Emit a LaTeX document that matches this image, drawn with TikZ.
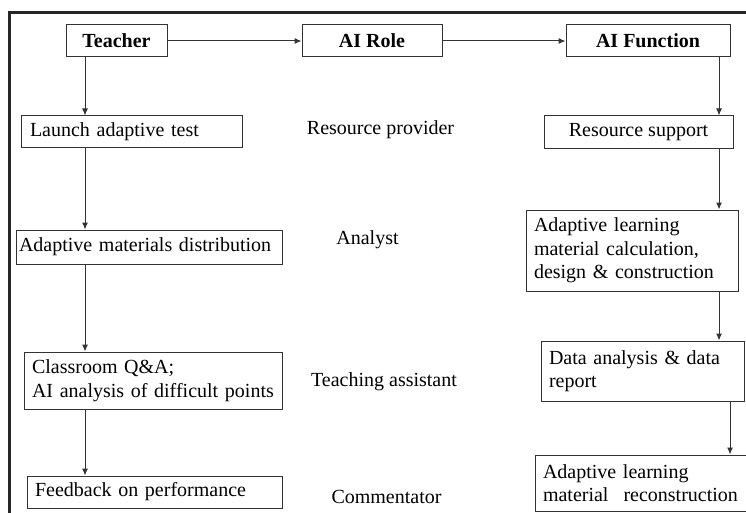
\documentclass[tikz,border=0pt]{standalone}
\usepackage{fontspec}
\setmainfont{Liberation Serif}
\usetikzlibrary{arrows.meta}
\begin{document}
\begin{tikzpicture}[x=1pt, y=-1pt,
  main/.style = {draw=black!80, line width=1pt, rectangle, inner ysep=0pt, font=\fontsize{20}{23.5}\selectfont},
  head/.style = {main, font=\fontsize{20}{23.5}\selectfont\bfseries, minimum height=32pt},
  role/.style = {font=\fontsize{20}{23.5}\selectfont},
  arr/.style = {-{Latex[length=7pt, width=6pt]}, draw=black!80, line width=1pt}]
\useasboundingbox (0,0) rectangle (746,513);
\clip (0,0) rectangle (746,513);
\draw[line width=3pt, black!85] (9,13) rectangle (770,540);

\node[head, minimum width=101pt] (1) at (116.5,41) {Teacher};
\node[head, minimum width=140pt] (2) at (372,41) {AI Role};
\node[head, minimum width=164pt] (3) at (648,41) {AI Function};

\node[main, minimum height=32pt, inner xsep=9pt, text width=203pt, align=left] (4) at (131.5,132) {Launch adaptive test};
\node[main, minimum height=34pt, inner xsep=3pt, text width=260pt, align=left] (5) at (149,247) {Adaptive materials distribution};
\node[main, minimum height=57pt, inner xsep=8pt, text width=242pt, align=left] (6) at (153,380.5) {Classroom Q\&A;\\AI analysis of difficult points};
\node[main, minimum height=32pt, inner xsep=8pt, text width=239pt, align=left] (7) at (154.5,492) {Feedback on performance};

\node[role] (8) at (380.5,130) {Resource provider};
\node[role] (9) at (367.5,240) {Analyst};
\node[role] (10) at (384,382) {Teaching assistant};
\node[role] (11) at (386.5,497) {Commentator};

\node[main, minimum height=33pt, minimum width=189pt] (12) at (638.5,132.5) {Resource support};
\node[main, minimum height=81pt, inner xsep=8pt, text width=196pt, align=left] (13) at (632,250.5) {Adaptive learning\\material calculation,\\design \& construction};
\node[main, minimum height=60pt, inner xsep=8pt, text width=187pt, align=left] (14) at (642.5,371) {Data analysis \& data\\report};
\node[main, minimum height=56pt, inner xsep=8pt, text width=209pt, align=left] (15) at (647.5,483) {Adaptive learning\\\mbox{material\hspace{15pt}reconstruction}};

\coordinate (lx) at (85,0);
\coordinate (rx) at (719,0);
\coordinate (rx2) at (730,0);

\draw[arr] (1) -- (2);
\draw[arr] (2) -- (3);
\draw[arr] (1.south -| lx) -- (4.north -| lx);
\draw[arr] (4.south -| lx) -- (5.north -| lx);
\draw[arr] (5.south -| lx) -- (6.north -| lx);
\draw[arr] (6.south -| lx) -- (7.north -| lx);
\draw[arr] (3.south -| rx) -- (12.north -| rx);
\draw[arr] (12.south -| rx) -- (13.north -| rx);
\draw[arr] (13.south -| rx) -- (14.north -| rx);
\draw[arr] (14.south -| rx2) -- (15.north -| rx2);
\end{tikzpicture}
\end{document}
